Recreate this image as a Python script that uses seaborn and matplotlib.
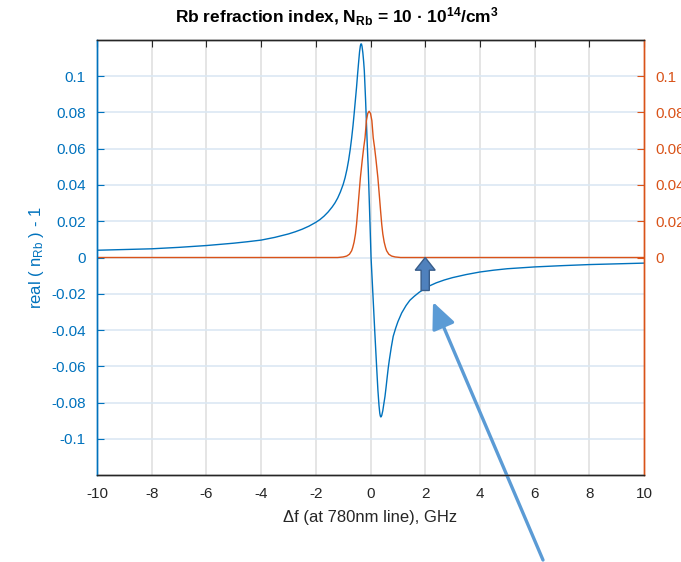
import numpy as np
import pandas as pd
import seaborn as sns
import matplotlib.pyplot as plt
from matplotlib.patches import FancyArrow

# values
df_ghz = [-10, -9, -8, -7, -6, -5, -4.5, -4, -3.5, -3, -2.75, -2.5, -2.25, -2,
          -1.85, -1.7, -1.55, -1.4, -1.3, -1.2, -1.1, -1.0, -0.93, -0.86, -0.8,
          -0.74, -0.69, -0.64, -0.6, -0.55, -0.51, -0.47, -0.43, -0.4, -0.37,
          -0.35, -0.33, -0.31, -0.28, -0.25, -0.226, -0.18, -0.128, -0.08, -0.04,
          0.02, 0.09, 0.16, 0.23, 0.27, 0.31, 0.34, 0.36, 0.38, 0.41, 0.45, 0.49,
          0.53, 0.57, 0.61, 0.65, 0.69, 0.76, 0.83, 0.92, 1.0, 1.14, 1.3, 1.44,
          1.6, 1.78, 2.0, 2.18, 2.4, 2.7, 3.0, 3.5, 4.0, 4.5, 5.0, 6.0, 7.0, 8.0,
          9.0, 10.0]
n_real = [0.0040, 0.0044, 0.0048, 0.0056, 0.0066, 0.0079, 0.0087, 0.0096, 0.0111,
          0.0130, 0.0142, 0.0156, 0.0173, 0.0194, 0.0209, 0.0228, 0.0251, 0.0279,
          0.0301, 0.0328, 0.0362, 0.0403, 0.0440, 0.0487, 0.0537, 0.0598, 0.0658,
          0.0727, 0.0790, 0.0873, 0.0940, 0.1015, 0.1085, 0.1135, 0.1168, 0.1178,
          0.1178, 0.1165, 0.1130, 0.1080, 0.1030, 0.0870, 0.0660, 0.0480, 0.0290,
          0.0000, -0.0210, -0.0420, -0.0620, -0.0730, -0.0815, -0.0860, -0.0875,
          -0.0880, -0.0872, -0.0845, -0.0805, -0.0766, -0.0715, -0.0660, -0.0608,
          -0.0564, -0.0495, -0.0435, -0.0390, -0.0355, -0.0306, -0.0265, -0.0236,
          -0.0214, -0.0192, -0.0170, -0.0155, -0.0140, -0.0124, -0.0111, -0.0094,
          -0.0080, -0.0070, -0.0062, -0.0052, -0.0045, -0.0039, -0.0035, -0.0031]

abs_ghz = [-10, -1.2, -1.0, -0.87, -0.77, -0.69, -0.65, -0.6, -0.55, -0.51, -0.47,
           -0.43, -0.37, -0.3, -0.25, -0.2, -0.15, -0.1, -0.05, 0.0, 0.05, 0.1,
           0.15, 0.2, 0.27, 0.33, 0.37, 0.41, 0.45, 0.5, 0.55, 0.59, 0.67, 0.77,
           0.9, 1.1, 10]
n_imag = [0, 0, 0.0003, 0.0008, 0.0018, 0.0037, 0.0055, 0.0085, 0.0130, 0.0184,
          0.0255, 0.0330, 0.0440, 0.0540, 0.0605, 0.0660, 0.0755, 0.0795, 0.0807,
          0.0795, 0.0755, 0.0660, 0.0605, 0.0540, 0.0440, 0.0330, 0.0255, 0.0184,
          0.0130, 0.0085, 0.0055, 0.0037, 0.0018, 0.0008, 0.0003, 0, 0]

x_ticks = [-10, -8, -6, -4, -2, 0, 2, 4, 6, 8, 10]
y_ticks = [-0.1, -0.08, -0.06, -0.04, -0.02, 0, 0.02, 0.04, 0.06, 0.08, 0.1]
y_labels = ["-0.1", "-0.08", "-0.06", "-0.04", "-0.02", "0", "0.02", "0.04", "0.06", "0.08", "0.1"]
y2_ticks = [0, 0.02, 0.04, 0.06, 0.08, 0.1]
y2_labels = ["0", "0.02", "0.04", "0.06", "0.08", "0.1"]

blue = "#0072BD"
orange = "#D95319"
dark = "#262626"

sns.set_style("white")
plt.rcParams['font.family'] = ['Liberation Sans', 'DejaVu Sans']
plt.rcParams['mathtext.fontset'] = 'custom'
plt.rcParams['mathtext.rm'] = 'Liberation Sans'
plt.rcParams['mathtext.it'] = 'Liberation Sans:italic'
plt.rcParams['mathtext.bf'] = 'Liberation Sans:bold'

fig = plt.figure(figsize=(6.81, 5.62), dpi=100)
ax = fig.add_axes([97 / 681, 1 - 475 / 562, (644 - 97) / 681, (475 - 40) / 562])
ax2 = ax.twinx()

sns.lineplot(x=df_ghz, y=n_real, ax=ax, color=blue, lw=1.0, sort=False)
sns.lineplot(x=abs_ghz, y=n_imag, ax=ax2, color=orange, lw=1.0, sort=False)

ax.set_xlim(-10, 10)
ax.set_ylim(-0.12, 0.12)
ax2.set_ylim(-0.12, 0.12)

ax.set_xticks(x_ticks)
ax.set_xticklabels([str(t) for t in x_ticks])
ax.set_yticks(y_ticks)
ax.set_yticklabels(y_labels)
ax2.set_yticks(y2_ticks)
ax2.set_yticklabels(y2_labels)

ax.tick_params(axis='x', direction='in', length=5, top=True, labelsize=11,
               colors=dark, pad=9)
ax.tick_params(axis='y', direction='in', length=5, labelsize=11, colors=blue, pad=8)
ax2.tick_params(axis='y', direction='in', length=5, labelsize=11, colors=orange, pad=8)

# grid like matlab
for t in x_ticks[1:-1]:
    ax.axvline(t, color="#e0e0e0", lw=1.2, zorder=0)
for t in y_ticks:
    ax.axhline(t, color="#dbe8f3", lw=1.2, zorder=0)

for a in (ax, ax2):
    a.spines['top'].set_color(dark)
    a.spines['bottom'].set_color(dark)
    a.spines['left'].set_color(blue)
    a.spines['right'].set_color(orange)
    for s in a.spines.values():
        s.set_linewidth(1.0)

ax.set_xlabel("\u0394f (at 780nm line), GHz", fontsize=12, color=dark, labelpad=6)
ax.set_ylabel("real ( n$_{\\mathrm{Rb}}$ ) - 1", fontsize=12, color=blue, labelpad=4)
ax2.set_ylabel("")
fig.text(337 / 681, 1 - 17 / 562,
         "Rb refraction index, N$_{\\mathbf{Rb}}$ = 10 \u00b7 10$^{\\mathbf{14}}$/cm$^{\\mathbf{3}}$",
         fontsize=12.5, fontweight='bold', color='black', ha='center', va='center')

# block arrow at 2 GHz
ax2.add_patch(FancyArrow(2.0, -0.0182, 0, 0.0182, width=0.30, head_width=0.73,
                         head_length=0.0070, length_includes_head=True,
                         fc="#4f81bd", ec="#385d8a", lw=1.0, zorder=5))

# pointer arrow from outside the axes
ax.annotate("", xy=(433 / 681, 1 - 302 / 562), xycoords='figure fraction',
            xytext=(543 / 681, 1 - 560 / 562), textcoords='figure fraction',
            arrowprops=dict(arrowstyle="-|>,head_length=1.0,head_width=0.45",
                            lw=2.4, color="#5b9bd5", mutation_scale=16,
                            shrinkA=0, shrinkB=0),
            annotation_clip=False, zorder=6)

fig.savefig("out.png", dpi=100)
